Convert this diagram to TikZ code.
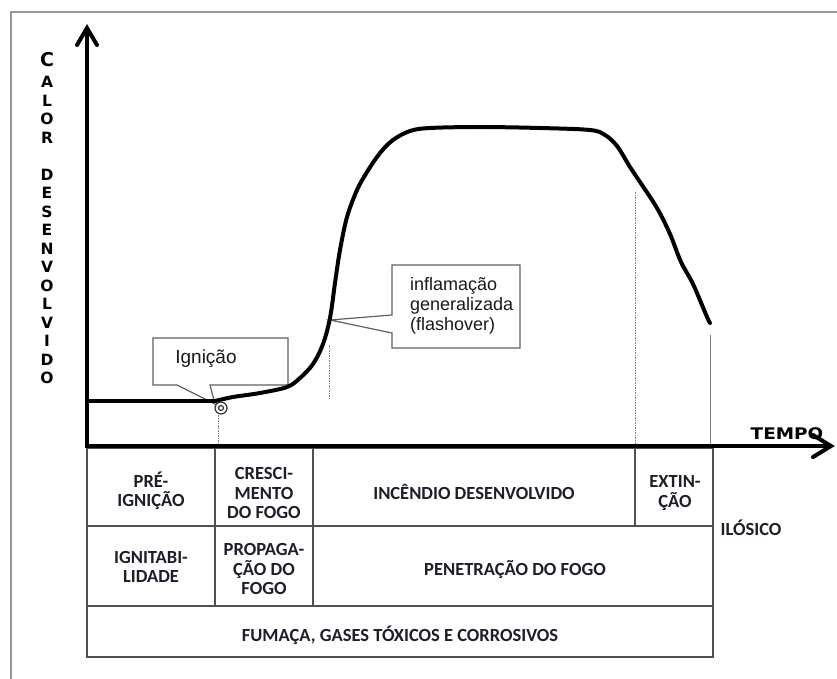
\documentclass[tikz,border=0pt]{standalone}
\usepackage{fontspec}
\setmainfont{Liberation Sans}
\newfontfamily\tabfont{Carlito}
\newfontfamily\axfont{DejaVu Sans}
\definecolor{tabcol}{HTML}{1E1E28}
\definecolor{gridcol}{HTML}{505050}
\definecolor{framecol}{HTML}{959595}
\definecolor{callcol}{HTML}{606060}
\begin{document}
\begin{tikzpicture}[x=1pt,y=-1pt,
  tabtext/.style={font=\tabfont\bfseries\fontsize{18.5}{19.5}\selectfont, text=tabcol, align=center, inner sep=0pt},
  gridline/.style={draw=gridcol, line width=1.3pt},
  axisline/.style={line width=4pt},
  barb/.style={line width=4pt, line cap=round, line join=miter},
  curveline/.style={line width=4pt, line cap=round, line join=round},
  calloutbox/.style={draw=callcol, line width=1.2pt, fill=white, line join=miter},
  guideline/.style={draw=gray, line width=0.8pt, dash pattern=on 1.5pt off 1pt},
  ylab/.style={font=\axfont\bfseries\fontsize{15.5}{16}\selectfont, inner sep=0pt},
  calltext/.style={font=\fontsize{18}{20}\selectfont, align=left, inner sep=0pt, text=black!90}
]
\useasboundingbox (0,0) rectangle (837,679);
\fill[white] (0,0) rectangle (837,679);
% outer frame
\draw[draw=framecol, line width=1.8pt] (11,679) -- (11,12) -- (837,12);

% guide lines
\draw[guideline] (218,410) -- (218,445);
\draw[guideline] (329,345) -- (329,400);
\draw[guideline] (635,192) -- (635,445);
\draw[draw=gray, line width=0.9pt] (710,335) -- (710,445);

% callouts
\coordinate (ig) at (215,404);
\coordinate (fl) at (330,320);
\draw[calloutbox] (210,385) -- (288,385) -- (288,338) -- (153,338) -- (153,385) -- (177,385) -- (ig) -- cycle;
\node[calltext, anchor=base] (ignicao) at (206,363) {\fontsize{19}{20}\selectfont Igni\c{c}\~ao};
\draw[calloutbox] (392,315) -- (392,265) -- (520,265) -- (520,348) -- (392,348) -- (392,333) -- (fl) -- cycle;
\node[calltext, anchor=north west] (flash) at (410,277) {inflama\c{c}\~ao\\generalizada\\(flashover)};

% table
\draw[gridline] (87,448) rectangle (713,657);
\draw[gridline] (87,526) -- (713,526);
\draw[gridline] (87,606) -- (713,606);
\draw[gridline] (215,448) -- (215,606);
\draw[gridline] (313,448) -- (313,606);
\draw[gridline] (635,448) -- (635,526);

\node[tabtext] (pre) at (151,491) {PRÉ-\\IGNIÇÃO};
\begin{scope}
\clip (215,448) rectangle (313,519);
\node[tabtext] (cresc) at (264,493) {CRESCI-\\MENTO\\DO FOGO};
\end{scope}
\node[tabtext] (incend) at (474,492) {INCÊNDIO DESENVOLVIDO};
\node[tabtext] (extin) at (675,493) {EXTIN-\\ÇÃO};
\node[tabtext] (ignit) at (151,567) {IGNITABI-\\LIDADE};
\node[tabtext] (propag) at (264,569) {PROPAGA-\\ÇÃO DO\\FOGO};
\node[tabtext] (penet) at (515,570) {PENETRAÇÃO DO FOGO};
\node[tabtext] (fumaca) at (400,635) {FUMAÇA, GASES TÓXICOS E CORROSIVOS};
\node[tabtext] (ilosico) at (751,528) {ILÓSICO};

% axes
\coordinate (O) at (87,446);
\coordinate (ytip) at (87,28);
\coordinate (xstart) at (85,446);
\coordinate (xtip) at (831,446);
\draw[axisline] (O) -- (ytip);
\draw[axisline] (xstart) -- (xtip);
\draw[barb] (77,45) -- (ytip) -- (97,45);
\draw[barb] (813,435) -- (xtip) -- (813,457);

% y label
\node[ylab, font=\axfont\bfseries\fontsize{19}{19}\selectfont] (yC) at (47,60) {C};
\foreach \ch/\yy [count=\k] in {A/82, L/100.5, O/119, R/137.5, D/174.5, E/193, S/211.5, E/230, N/248.5, V/267, O/285.5, L/304, V/322.5, I/341, D/359.5, O/378}
  \node[ylab] (yl\k) at (47,\yy) {\ch};

% x label
\node[inner sep=0pt, anchor=base, font=\axfont\bfseries\fontsize{16}{16}\selectfont] (tempo) at (787,439) {\scalebox{1.15}[1]{TEMPO}};

% curve
\draw[curveline] (87,401) -- (215,401);
\draw[curveline] plot[smooth, tension=0.55] coordinates {(215,401) (233,397) (260,393) (287,387) (300,378) (313,364) (323,344) (330,318) (335,283) (340,250) (347,217) (357,190) (367,172) (380,153) (393,140) (410,131) (430,128) (480,127) (540,128) (590,130) (605,135) (617,146) (630,167) (640,182) (657,208) (670,234) (681,262) (693,284) (707,317) (710,323)};

% ignition marker
\node[circle, draw=black!80, line width=1.2pt, fill=white, minimum size=12pt, inner sep=0pt] (mk) at (221,408) {};
\node[circle, draw=black!80, line width=1.2pt, minimum size=5pt, inner sep=0pt] (mk2) at (221,408) {};
\end{tikzpicture}
\end{document}
